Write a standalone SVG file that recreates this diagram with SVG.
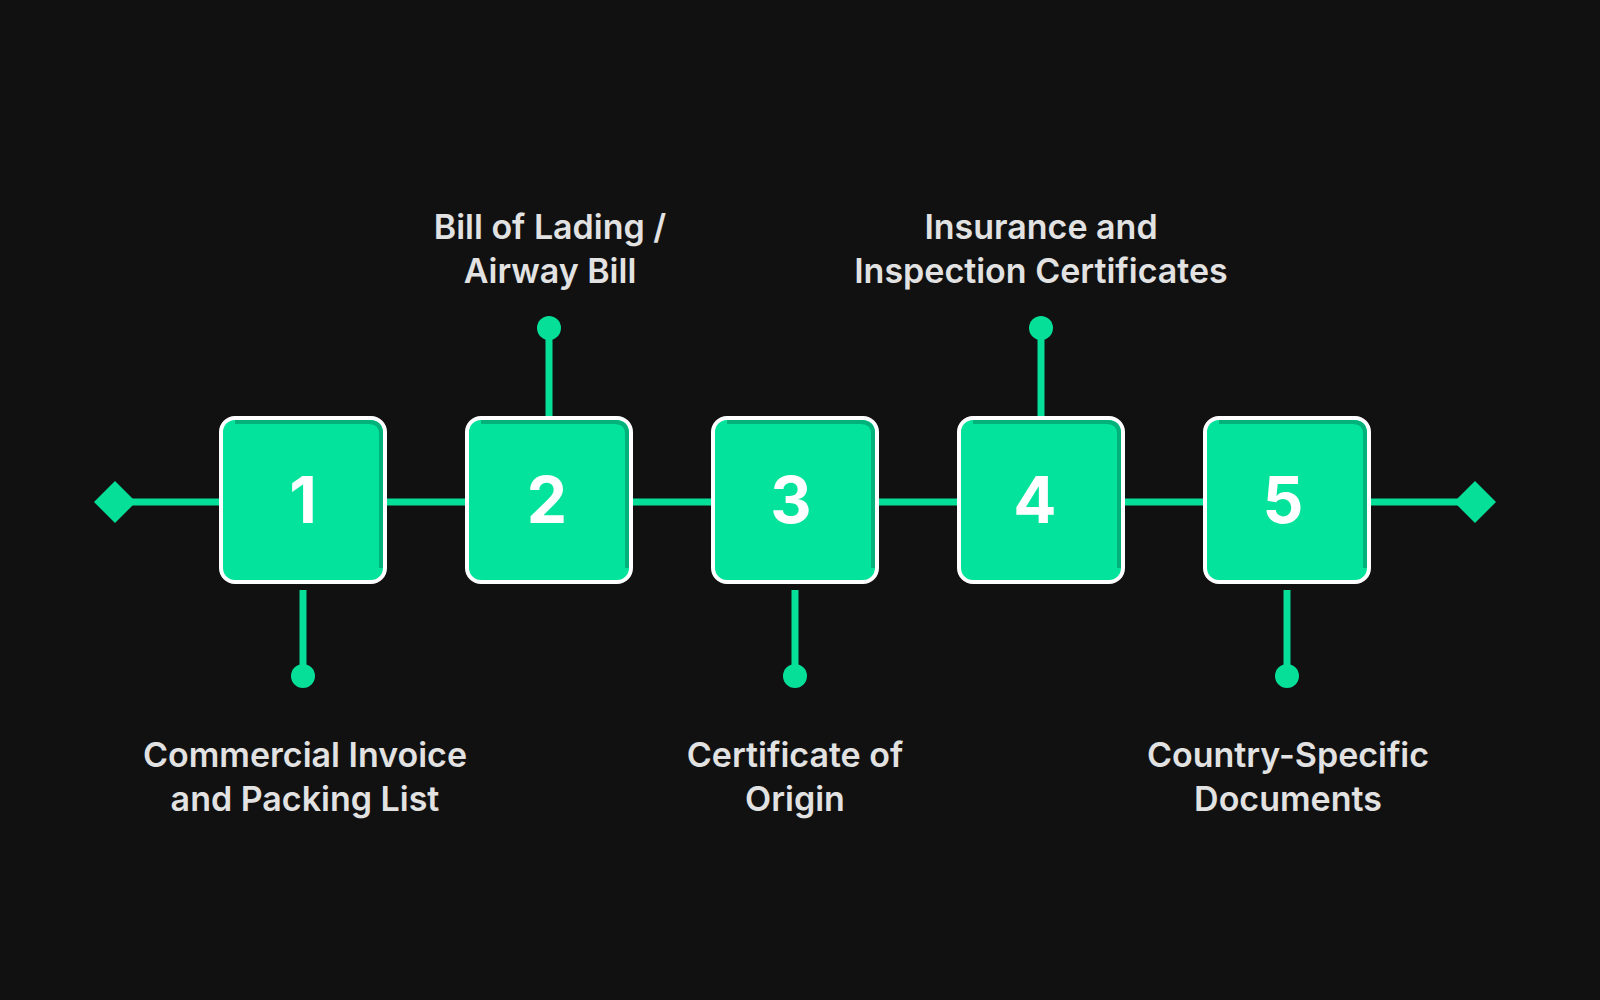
<svg xmlns="http://www.w3.org/2000/svg" width="1600" height="1000" viewBox="0 0 1600 1000">
<defs>
<style>
.ln{stroke:#06df98;stroke-width:7;fill:none}
.dot{fill:#06df98}
.box{fill:#03e39b;stroke:#ffffff;stroke-width:4}
.sh{fill:none;stroke:#02a572;stroke-width:4;opacity:0.8}
.num{font-family:Inter,"Liberation Sans",sans-serif;font-weight:700;font-size:64px;fill:#ffffff;text-anchor:middle}
.lbl{font-family:Inter,"Liberation Sans",sans-serif;font-weight:600;font-size:34px;fill:#e2e2e2;text-anchor:middle}
</style>
</defs>
<rect width="1600" height="1000" fill="#111111"/>
<g id="connectors">
<line class="ln" x1="115" y1="502" x2="1475" y2="502"/>
<polygon class="dot" points="94,502 115,481 136,502 115,523"/>
<polygon class="dot" points="1454,502 1475,481 1496,502 1475,523"/>
<line class="ln" x1="303" y1="590" x2="303" y2="676"/><circle class="dot" cx="303" cy="676" r="12"/>
<line class="ln" x1="549" y1="417" x2="549" y2="328"/><circle class="dot" cx="549" cy="328" r="12"/>
<line class="ln" x1="795" y1="590" x2="795" y2="676"/><circle class="dot" cx="795" cy="676" r="12"/>
<line class="ln" x1="1041" y1="417" x2="1041" y2="328"/><circle class="dot" cx="1041" cy="328" r="12"/>
<line class="ln" x1="1287" y1="590" x2="1287" y2="676"/><circle class="dot" cx="1287" cy="676" r="12"/>
</g>
<g id="n1"><rect class="box" x="221" y="418" width="164" height="164" rx="14"/><path class="sh" d="M235,422 H369 Q381,422 381,434 V568"/><text class="num" x="303" y="523">1</text>
<text class="lbl" x="305" y="767">Commercial Invoice</text><text class="lbl" x="305" y="811">and Packing List</text></g>
<g id="n2"><rect class="box" x="467" y="418" width="164" height="164" rx="14"/><path class="sh" d="M481,422 H615 Q627,422 627,434 V568"/><text class="num" x="547" y="523">2</text>
<text class="lbl" x="550" y="239">Bill of Lading /</text><text class="lbl" x="550" y="283">Airway Bill</text></g>
<g id="n3"><rect class="box" x="713" y="418" width="164" height="164" rx="14"/><path class="sh" d="M727,422 H861 Q873,422 873,434 V568"/><text class="num" x="791" y="523">3</text>
<text class="lbl" x="795" y="767">Certificate of</text><text class="lbl" x="795" y="811">Origin</text></g>
<g id="n4"><rect class="box" x="959" y="418" width="164" height="164" rx="14"/><path class="sh" d="M973,422 H1107 Q1119,422 1119,434 V568"/><text class="num" x="1035" y="523">4</text>
<text class="lbl" x="1041" y="239">Insurance and</text><text class="lbl" x="1041" y="283">Inspection Certificates</text></g>
<g id="n5"><rect class="box" x="1205" y="418" width="164" height="164" rx="14"/><path class="sh" d="M1219,422 H1353 Q1365,422 1365,434 V568"/><text class="num" x="1283" y="523">5</text>
<text class="lbl" x="1288" y="767">Country-Specific</text><text class="lbl" x="1288" y="811">Documents</text></g>
</svg>
